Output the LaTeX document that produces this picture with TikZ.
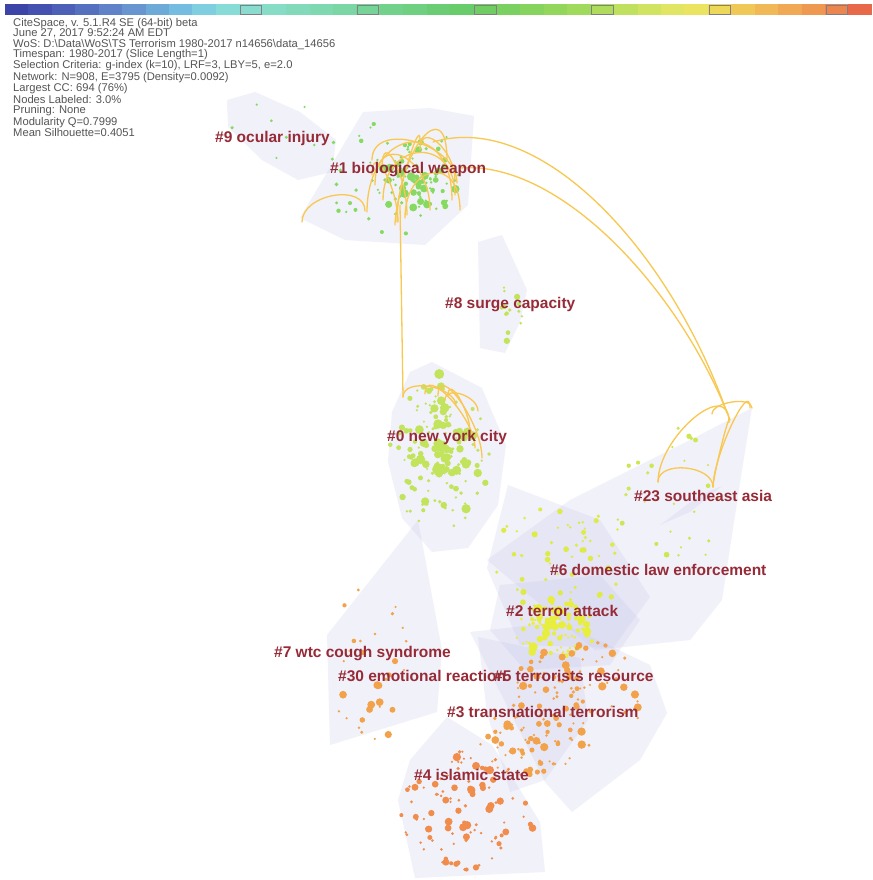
\documentclass[tikz,border=0pt]{standalone}
\usepackage{fontspec}
\setmainfont{Liberation Sans}
\usepackage{xcolor}
\usepackage{tikz}
\definecolor{hullfill}{RGB}{200,200,235}
\definecolor{labelred}{HTML}{962B37}
\definecolor{edgeyellow}{HTML}{F8C850}
\definecolor{infogray}{HTML}{555555}
\definecolor{dotgreen}{HTML}{86DA62}
\definecolor{dotlime}{HTML}{C2E35C}
\definecolor{dotyellow}{HTML}{E8EE3E}
\definecolor{dotorange}{HTML}{F2A24A}
\definecolor{dotred}{HTML}{F08C4C}
\tikzstyle{hull} = [fill=hullfill, fill opacity=0.25, draw=none]
\tikzstyle{edge} = [draw=edgeyellow, line width=1.3pt, line cap=round]
\tikzstyle{clabel} = [anchor=west, inner sep=0pt, text=labelred, font=\fontsize{15.5}{16}\selectfont\bfseries]

% cx, cy, rx, ry, count, colour, spread, size
\newcommand{\dotcloud}[8]{%
  \foreach \k in {1,...,#5}{
    \pgfmathsetmacro\ta{rnd*360}
    \pgfmathsetmacro\rr{rnd^#7}
    \pgfmathsetmacro\sz{1.2+#8*rnd^2}
    \fill[#6] ({#1+#3*\rr*cos(\ta)},{#2+#4*\rr*sin(\ta)}) circle[radius=\sz pt];
  }
}

\begin{document}
\begin{tikzpicture}[x=1pt,y=-1pt]
	\useasboundingbox (0,0) rectangle (872,880);
	\fill[white] (0,0) rectangle (872,880);

	% colour bar
	\foreach \r/\g/\b [count=\i from 0] in {60/68/168,69/81/176,77/96/184,86/112/192,95/130/200,104/149/208,110/170/216,116/189/224,128/207/224,136/220/216,138/220/208,134/220/196,130/218/187,126/216/176,122/214/164,118/212/152,114/210/140,110/208/128,106/205/116,104/204/106,112/205/100,122/208/96,134/212/94,146/214/92,160/218/92,176/220/94,192/224/96,208/228/98,224/230/100,234/228/96,238/216/90,240/200/88,240/184/86,240/168/84,238/152/82,236/134/80,232/104/74}
		\fill[fill={rgb,255:red,\r;green,\g;blue,\b}] ({5+\i*23.43},4) rectangle ++(23.5,11);
	\foreach \i in {10,15,...,35}
		\draw[gray, line width=0.8pt] ({5+\i*23.43+1},5) rectangle ++(21.4,9);

	% run summary
	\node[anchor=north west, inner sep=0pt, align=left, text=infogray, font=\fontsize{11.2}{10.4}\selectfont] (info) at (13,18)
		{CiteSpace, v. 5.1.R4 SE (64-bit) beta\\
		June 27, 2017 9:52:24 AM EDT\\
		WoS: D:\textbackslash Data\textbackslash WoS\textbackslash TS Terrorism 1980-2017 n14656\textbackslash data\_14656\\
		Timespan: 1980-2017 (Slice Length=1)\\
		Selection Criteria: g-index (k=10), LRF=3, LBY=5, e=2.0\\
		Network: N=908, E=3795 (Density=0.0092)\\
		Largest CC: 694 (76\%)\\
		Nodes Labeled: 3.0\%\\
		Pruning: None\\
		Modularity Q=0.7999\\
		Mean Silhouette=0.4051};

	% cluster hulls
	\fill[hull] (227,100) -- (255,92) -- (300,112) -- (336,140) -- (332,172) -- (298,180) -- (262,160) -- (228,127) -- cycle;
	\fill[hull] (363,112) -- (430,108) -- (474,116) -- (468,205) -- (425,245) -- (345,240) -- (300,218) -- cycle;
	\fill[hull] (478,242) -- (502,235) -- (527,290) -- (520,322) -- (505,353) -- (480,348) -- cycle;
	\fill[hull] (410,372) -- (432,362) -- (482,388) -- (506,445) -- (498,505) -- (468,548) -- (432,552) -- (402,518) -- (388,462) -- (392,412) -- cycle;
	\fill[hull] (487,560) -- (570,500) -- (690,440) -- (752,408) -- (742,470) -- (722,600) -- (690,640) -- (595,650) -- cycle;
	\fill[hull] (660,525) -- (700,495) -- (722,486) -- (690,512) -- cycle;
	\fill[hull] (508,485) -- (600,520) -- (650,597) -- (613,648) -- (520,645) -- (487,568) -- cycle;
	\fill[hull] (500,585) -- (600,575) -- (640,620) -- (610,665) -- (525,670) -- (490,630) -- cycle;
	\fill[hull] (418,520) -- (442,650) -- (437,712) -- (330,745) -- (327,635) -- cycle;
	\fill[hull] (470,632) -- (560,622) -- (650,665) -- (667,713) -- (640,760) -- (572,812) -- (545,782) -- cycle;
	\fill[hull] (478,637) -- (580,658) -- (588,720) -- (545,780) -- (510,792) -- (487,713) -- cycle;
	\fill[hull] (447,717) -- (492,745) -- (540,822) -- (545,872) -- (415,878) -- (398,800) -- (410,760) -- cycle;

	% cited references
	\pgfmathsetseed{2017}
	\dotcloud{275}{137}{50}{38}{9}{dotgreen}{0.5}{0.6}
	\dotcloud{415}{180}{42}{40}{90}{dotgreen}{0.8}{3.2}
	\dotcloud{395}{175}{75}{60}{35}{dotgreen}{0.5}{1.2}
	\dotcloud{510}{312}{14}{30}{14}{dotlime}{0.6}{2.5}
	\dotcloud{440}{452}{50}{82}{170}{dotlime}{0.9}{3.8}
	\dotcloud{670}{500}{55}{75}{28}{dotlime!70!dotyellow}{0.5}{1.8}
	\dotcloud{560}{560}{70}{55}{55}{dotyellow!70!dotlime}{0.6}{2.2}
	\dotcloud{555}{628}{45}{30}{100}{dotyellow}{0.9}{3.5}
	\dotcloud{370}{665}{40}{80}{32}{dotorange}{0.5}{3}
	\dotcloud{575}{695}{75}{55}{90}{dotorange}{0.8}{3}
	\dotcloud{535}{740}{55}{40}{65}{dotorange}{0.8}{3}
	\dotcloud{468}{812}{68}{62}{100}{dotred}{0.6}{3}

	% co-citation links
	\coordinate (bwA) at (433,142);
	\coordinate (bwB) at (460,168);
	\coordinate (bwC) at (400,205);
	\coordinate (seaA) at (727,413);
	\coordinate (seaB) at (730,420);
	\coordinate (nyA) at (403,397);
	\draw[edge] (bwA) .. controls (540,110) and (670,250) .. (seaA);
	\draw[edge] (bwB) .. controls (560,160) and (680,290) .. (seaB);
	\draw[edge] (bwC) -- (nyA);
	\foreach \ax/\ay/\bx/\by/\h in {302/222/365/211/28, 367/212/452/200/85, 372/160/457/183/40, 397/222/447/160/70, 407/215/382/168/40, 383/200/455/195/60, 398/222/372/175/35, 405/218/460/210/55, 420/150/455/180/30, 375/185/430/210/55, 395/225/420/140/25}
		\draw[edge] (\ax,\ay) .. controls +(0,-\h) and +(0,-\h) .. (\bx,\by);
	\foreach \ax/\ay/\bx/\by/\h in {403/397/456/406/20, 438/396/482/458/35, 448/396/470/432/22, 445/400/478/411/15, 425/394/475/448/30}
		\draw[edge] (\ax,\ay) .. controls +(0,-\h) and +(0,-\h) .. (\bx,\by);
	\foreach \ax/\ay/\bx/\by/\h in {658/482/729/422/45, 713/487/729/422/10, 713/487/750/408/30, 658/482/713/487/22, 712/414/752/408/12}
		\draw[edge] (\ax,\ay) .. controls +(0,-\h) and +(0,-\h) .. (\bx,\by);

	% cluster labels
	\node[clabel] (c9) at (215,138) {\#9 ocular injury};
	\node[clabel] (c1) at (330,170) {\#1 biological weapon};
	\node[clabel] (c8) at (445,305) {\#8 surge capacity};
	\node[clabel] (c0) at (387,437) {\#0 new york city};
	\node[clabel] (c23) at (634,496) {\#23 southeast asia};
	\node[clabel] (c6) at (550,570) {\#6 domestic law enforcement};
	\node[clabel] (c2) at (506,611) {\#2 terror attack};
	\node[clabel] (c7) at (274,654) {\#7 wtc cough syndrome};
	\node[clabel] (c30) at (338,676) {\#30 emotional reaction};
	\node[clabel] (c5) at (494,676) {\#5 terrorists resource};
	\node[clabel] (c3) at (447,712) {\#3 transnational terrorism};
	\node[clabel] (c4) at (414,775) {\#4 islamic state};
\end{tikzpicture}
\end{document}
